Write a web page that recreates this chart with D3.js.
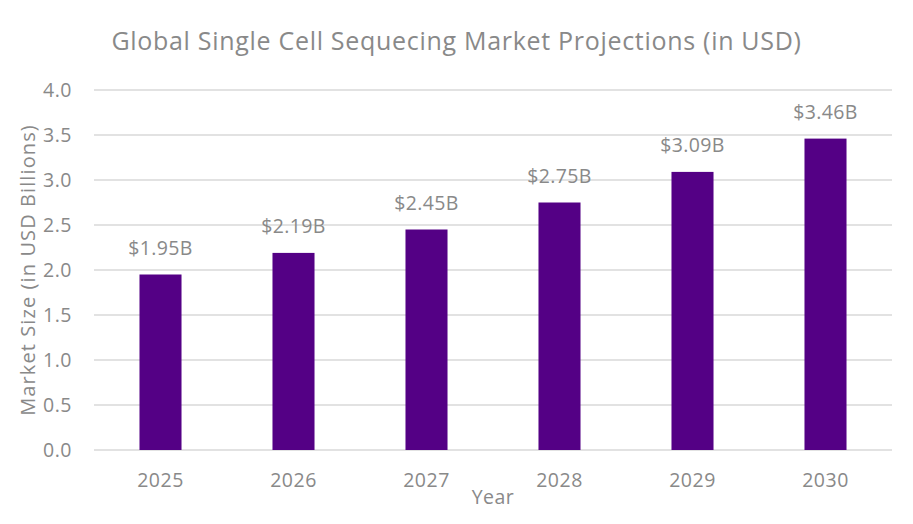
<!DOCTYPE html>
<html>
<head>
<meta charset="utf-8">
<script src="https://cdn.jsdelivr.net/npm/d3@7"></script>
<style>
  body { margin: 0; background: #fff; }
  text { font-family: "Open Sans", "Noto Sans", sans-serif; fill: #898989; }
</style>
</head>
<body>
<div id="chart"></div>
<script>
const years = ['2025', '2026', '2027', '2028', '2029', '2030'];
const marketSize = [1.95, 2.19, 2.45, 2.75, 3.09, 3.46];
const valueLabels = ['$1.95B', '$2.19B', '$2.45B', '$2.75B', '$3.09B', '$3.46B'];
const yTicks = [0, 0.5, 1.0, 1.5, 2.0, 2.5, 3.0, 3.5, 4.0];

const width = 913, height = 524;
const margin = {top: 90, right: 21, bottom: 74, left: 94};
const cw = width - margin.left - margin.right;
const ch = height - margin.top - margin.bottom;
const fs = 19.5;

const svg = d3.select('#chart').append('svg').attr('width', width).attr('height', height);
const g = svg.append('g').attr('transform', `translate(${margin.left}, ${margin.top})`);

const xScale = d3.scaleBand().domain(years).range([0, cw]).paddingInner(0.684).paddingOuter(0.342);
const yScale = d3.scaleLinear().domain([0, 4]).range([ch, 0]);

// gridlines
g.append('g')
  .selectAll('line')
  .data(yTicks)
  .join('line')
  .attr('x1', 0).attr('x2', cw)
  .attr('y1', d => yScale(d)).attr('y2', d => yScale(d))
  .attr('stroke', '#d9d9d9')
  .attr('stroke-width', 1.3);

// y axis labels
const yAxis = g.append('g').call(d3.axisLeft(yScale).tickValues(yTicks).tickFormat(d3.format('.1f')).tickSize(0).tickPadding(22));
yAxis.select('.domain').remove();
yAxis.selectAll('text').attr('font-size', fs).attr('letter-spacing', 0.5).attr('fill', '#898989');

// x axis labels
const xAxis = g.append('g').attr('transform', `translate(0, ${ch})`)
  .call(d3.axisBottom(xScale).tickSize(0).tickPadding(23));
xAxis.select('.domain').remove();
xAxis.selectAll('text').attr('font-size', fs).attr('letter-spacing', 0.5).attr('fill', '#898989');

const data = years.map((y, i) => ({year: y, value: marketSize[i], label: valueLabels[i]}));

g.selectAll('rect.bar')
  .data(data)
  .join('rect')
  .attr('class', 'bar')
  .attr('x', d => xScale(d.year))
  .attr('y', d => yScale(d.value))
  .attr('width', xScale.bandwidth())
  .attr('height', d => ch - yScale(d.value))
  .attr('fill', '#540085');

g.selectAll('text.val')
  .data(data)
  .join('text')
  .attr('class', 'val')
  .attr('x', d => xScale(d.year) + xScale.bandwidth() / 2)
  .attr('y', d => yScale(d.value) - 19.5)
  .attr('text-anchor', 'middle')
  .attr('font-size', fs)
  .attr('letter-spacing', 0.4)
  .text(d => d.label);

// titles
svg.append('text')
  .attr('x', width / 2)
  .attr('y', 50)
  .attr('text-anchor', 'middle')
  .attr('font-size', 25)
  .attr('letter-spacing', 0.7)
  .text('Global Single Cell Sequecing Market Projections (in USD)');

svg.append('text')
  .attr('x', margin.left + cw / 2)
  .attr('y', 504)
  .attr('text-anchor', 'middle')
  .attr('font-size', fs)
  .attr('letter-spacing', 0.5)
  .text('Year');

svg.append('text')
  .attr('transform', `translate(35, ${margin.top + ch / 2}) rotate(-90)`)
  .attr('text-anchor', 'middle')
  .attr('font-size', 20)
  .attr('letter-spacing', 1.1)
  .text('Market Size (in USD Billions)');
</script>
</body>
</html>
